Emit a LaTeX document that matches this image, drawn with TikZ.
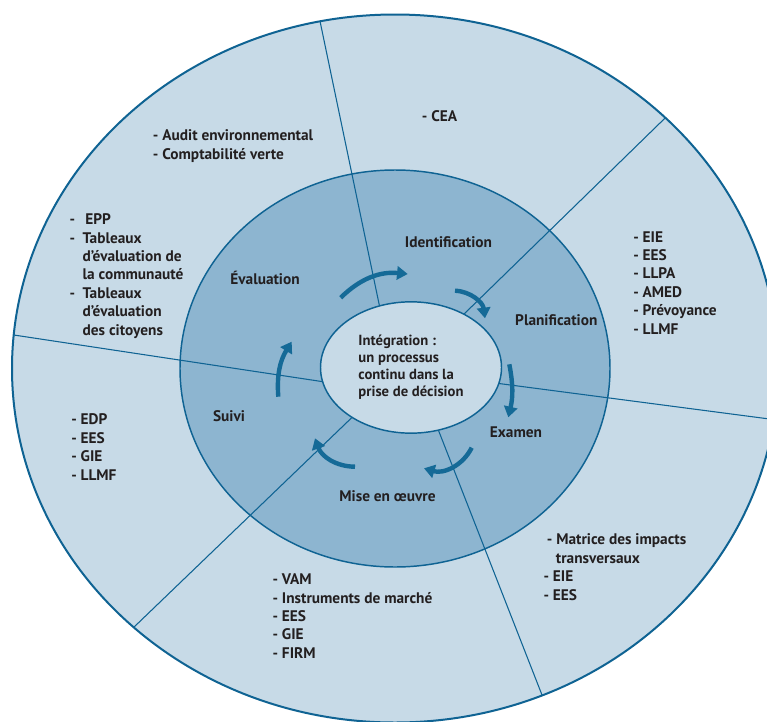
\documentclass[tikz,border=0pt]{standalone}
\usepackage{fontspec}
\setmainfont{PT Sans}
\usetikzlibrary{arrows.meta, shapes.geometric}
\definecolor{wheelpale}{HTML}{C7DAE7}
\definecolor{wheelmid}{HTML}{8DB5D0}
\definecolor{wheelline}{HTML}{0F6393}
\definecolor{wheelarrow}{HTML}{156A97}
\definecolor{wheeltext}{HTML}{231F20}
\newcommand{\tooldash}[1]{\makebox[#1][l]{-}}

\begin{document}
\begin{tikzpicture}[x=0.75pt, y=-0.75pt,
    ring/.style={draw=wheelline, line width=1.1pt},
    divider/.style={draw=wheelline, line width=0.8pt},
    cyc/.style={-{Triangle[length=8pt, width=10pt]}, line width=3.3pt, wheelarrow},
    phase/.style={font=\fontsize{11.5}{13.8}\selectfont\bfseries, text=wheeltext,
                  inner sep=0pt, anchor=base},
    tool/.style={font=\fontsize{11.5}{13.8}\selectfont\bfseries, text=wheeltext,
                 align=left, inner sep=0pt, anchor=base west},
    core/.style={ellipse, draw=wheelline, fill=wheelpale, line width=1.1pt,
                 minimum width=135.75pt, minimum height=98.5pt, inner sep=0pt,
                 align=left, font=\fontsize{11}{12.8}\selectfont\bfseries, text=wheeltext},
]
\useasboundingbox (0,0) rectangle (767,721);
\clip (0,0) rectangle (767,721);
\coordinate (c) at (395,368.5);

% rings
\fill[wheelpale] (c) ellipse [x radius=383, y radius=354];
\fill[wheelmid]  (c) ellipse [x radius=215, y radius=198.5];

% dividers between the sectors
\begin{scope}
  \clip (c) ellipse [x radius=383, y radius=354];
  \draw[divider] (380.9,312.8) -- (313.5,-10);
  \draw[divider] (458.3,319.6) -- (700,84);
  \draw[divider] (489,382.2)   -- (800,423);
  \draw[divider] (435.4,422.5) -- (560,741);
  \draw[divider] (356.8,412.8) -- (106,654);
  \draw[divider] (326.2,382.2) -- (-10,331.4);
\end{scope}
\draw[ring, line width=1.5pt] (c) ellipse [x radius=383, y radius=354];
\draw[ring] (c) ellipse [x radius=215, y radius=198.5];

% centre
\node[core] (core) at (411,367.5)
  {Intégration :\\un processus\\continu dans la\\prise de décision};

% cycle arrows
\draw[cyc] (340.7,297.7) to[bend left=25] (407.7,274);
\draw[cyc] (455,290.7)   to[bend left=40] (485,318.3);
\draw[cyc] (509.3,364.3) to[bend left=12] (508.3,417.3);
\draw[cyc] (471.7,447.7) to[bend left=40] (424,468.3);
\draw[cyc] (355,466.7)   to[bend left=35] (315,438.3);
\draw[cyc] (278.3,396.7) to[bend left=18] (291.7,341.7);

% phases
\node[phase] (ident) at (448.5,247.3) {Identification};
\node[phase] (plan)  at (556.3,325.7) {Planification};
\node[phase] (exam)  at (516,437.3)   {Examen};
\node[phase] (mise)  at (387.5,501.7) {Mise en œuvre};
\node[phase] (suivi) at (229,421.7)   {Suivi};
\node[phase] (eval)  at (265,284.3)   {Évaluation};

% tools in the outer ring (placed at the baseline of the last line)
\node[tool] (cea) at (421.7,121.8) {- CEA};
\node[tool] (audit) at (152.7,159.3) {- Audit environnemental\\- Comptabilité verte};
\node[tool] (epp) at (69.3,335)
  {\tooldash{11.8pt}EPP\\
   \tooldash{9.8pt}Tableaux\\
   \hspace*{9.8pt}d’évaluation de\\
   \hspace*{9.8pt}la communauté\\
   \tooldash{9.8pt}Tableaux\\
   \hspace*{9.8pt}d’évaluation\\
   \hspace*{9.8pt}des citoyens};
\node[tool] (eie) at (633,334)
  {- EIE\\- EES\\- LLPA\\- AMED\\- Prévoyance\\- LLMF};
\node[tool] (edp) at (71,480) {- EDP\\- EES\\- GIE\\- LLMF};
\node[tool] (vam) at (272.3,658.3)
  {- VAM\\- Instruments de marché\\- EES\\- GIE\\- FIRM};
\node[tool] (matrice) at (543.3,600)
  {\hspace*{2.5pt}- Matrice des impacts\\
   \hspace*{9.3pt}transversaux\\- EIE\\- EES};
\end{tikzpicture}
\end{document}
